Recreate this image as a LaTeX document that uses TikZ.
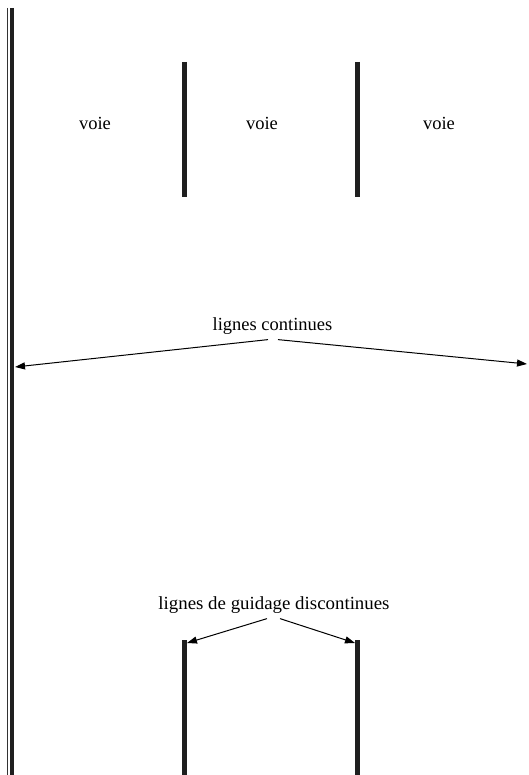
\documentclass[tikz,border=0pt]{standalone}
\usepackage{fontspec}
\setmainfont{Liberation Serif}
\usetikzlibrary{arrows.meta}
\begin{document}
\begin{tikzpicture}[x=1pt,y=-1pt,
  bar/.style={line width=4.2pt,color=black!88},
  thinbar/.style={line width=1.3pt,color=black!80},
  lbl/.style={font=\fontsize{18.5}{20}\selectfont,inner sep=1pt},
  ptr/.style={line width=1pt,-{Triangle[length=10pt,width=7pt]}}]
\useasboundingbox (0,0) rectangle (529,775);
% left edge of the road: thin + thick continuous lines
\draw[thinbar] (7.2,8) -- (7.2,775);
\draw[bar] (12.3,8) -- (12.3,775);
% lane separators, upper part
\draw[bar] (184.5,62) -- (184.5,197);
\draw[bar] (357.5,62) -- (357.5,197);
% lane separators, lower part
\draw[bar] (184.5,640) -- (184.5,775);
\draw[bar] (357.5,640) -- (357.5,775);
% lane labels
\node[lbl] (v1) at (95,123) {voie};
\node[lbl] (v2) at (262,123) {voie};
\node[lbl] (v3) at (439,123) {voie};
% continuous lines
\node[lbl] (lc) at (272.5,326) {lignes continues};
\coordinate (lcl) at (15,367);
\coordinate (lcr) at (527,364);
\draw[ptr] ([xshift=-4.5pt,yshift=-4pt]lc.south) -- (lcl);
\draw[ptr] ([xshift=5.5pt,yshift=-4pt]lc.south) -- (lcr);
% dashed guide lines
\node[lbl,xscale=1.02] (lg) at (274,605) {lignes de guidage discontinues};
\coordinate (gl) at (187,643);
\coordinate (gr) at (355,643);
\draw[ptr] ([xshift=-7pt,yshift=-4pt]lg.south) -- (gl);
\draw[ptr] ([xshift=6pt,yshift=-4pt]lg.south) -- (gr);
\end{tikzpicture}
\end{document}
